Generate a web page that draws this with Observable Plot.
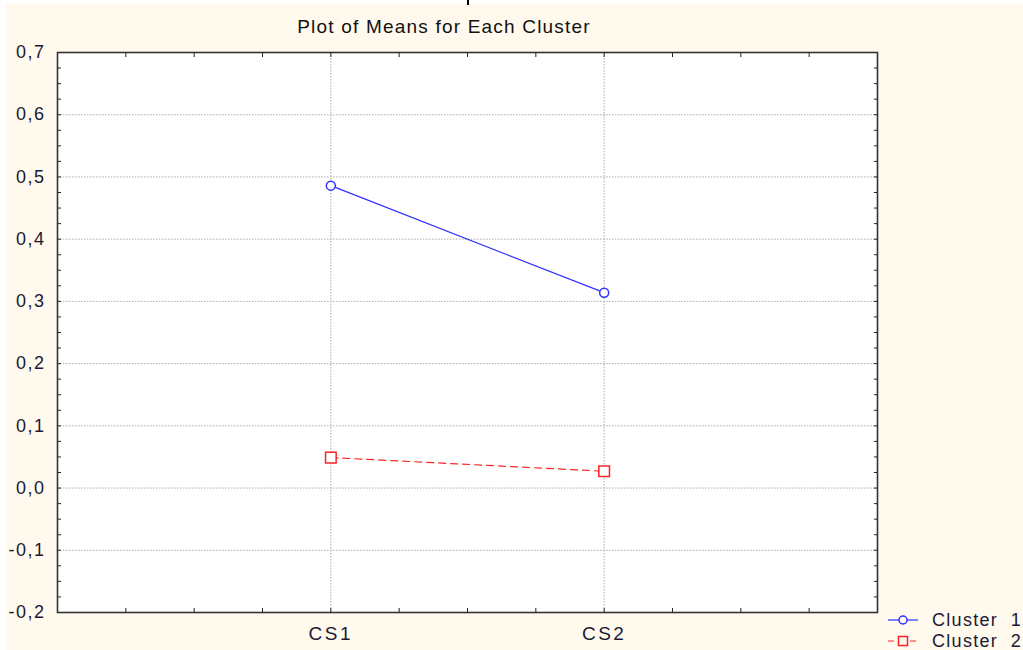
<!DOCTYPE html>
<html>
<head>
<meta charset="utf-8">
<script src="https://cdn.jsdelivr.net/npm/d3@7"></script>
<script src="https://cdn.jsdelivr.net/npm/@observablehq/plot@0.6"></script>
<style>
  html, body { margin: 0; padding: 0; background: #ffffff; }
  #wrap { position: relative; width: 1023px; height: 650px; overflow: hidden; }
  #bg { position: absolute; left: 6px; top: 4px; width: 1017px; height: 646px; background: #fff9ee; }
  #mark { position: absolute; left: 467px; top: 0; width: 2px; height: 5px; background: #000; }
  #title { position: absolute; left: 0; width: 888px; top: 16px; text-align: center;
           font-family: "Liberation Sans Narrow", "Arial Narrow", "Liberation Sans", Arial, sans-serif;
           font-size: 19px; color: #111; letter-spacing: 1.2px; }
  #chart { position: absolute; left: 0; top: 0; }
  #legend { position: absolute; left: 884px; top: 609px; }
</style>
</head>
<body>
<div id="wrap">
  <div id="bg"></div>
  <div id="mark"></div>
  <div id="chart"></div>
  <div id="title">Plot of Means for Each Cluster</div>
  <div id="legend"></div>
</div>
<script>
// ---- data ----
const categories = ["CS1", "CS2"];
const cluster1 = [0.486, 0.314];
const cluster2 = [0.049, 0.027];
const seriesNames = ["Cluster  1", "Cluster  2"];
const yMajorTicks = [-0.2, -0.1, 0.0, 0.1, 0.2, 0.3, 0.4, 0.5, 0.6, 0.7];
const yMinorStep = 0.025;
const xMinorStep = 0.25;

const blue = "#3030ff";
const red = "#ff2424";
const font = '"Liberation Sans", Arial, sans-serif';

const rows1 = categories.map((c, i) => ({cat: c, xi: i + 1, v: cluster1[i]}));
const rows2 = categories.map((c, i) => ({cat: c, xi: i + 1, v: cluster2[i]}));

const yAll = d3.range(Math.round(-0.2 / yMinorStep), Math.round(0.7 / yMinorStep) + 1).map(k => +(k * yMinorStep).toFixed(4));
const xAll = d3.range(0, Math.round(3 / xMinorStep) + 1).map(k => k * xMinorStep);
const comma = d => d3.format(".1f")(d).replace(".", ",").replace("−", "-");

const chart = Plot.plot({
  width: 1023,
  height: 650,
  marginTop: 52,
  marginBottom: 38,
  marginLeft: 57,
  marginRight: 146,
  style: {background: "transparent", fontFamily: font, overflow: "visible"},
  x: {type: "linear", domain: [0, categories.length + 1]},
  y: {domain: [-0.2, 0.7]},
  marks: [
    Plot.frame({fill: "white", stroke: "none"}),
    Plot.gridY(yMajorTicks, {stroke: "#aaaaaa", strokeOpacity: 1, strokeDasharray: "1.5,1.5"}),
    Plot.gridX(categories.map((c, i) => i + 1), {stroke: "#aaaaaa", strokeOpacity: 1, strokeDasharray: "1.5,1.5"}),
    // y labels
    Plot.axisY({anchor: "left", ticks: yMajorTicks, tickSize: 0, tickPadding: 12, tickFormat: comma,
                fontSize: 18, fill: "#1a1a33", label: null}),
    // inward ticks
    Plot.axisY({anchor: "left", ticks: yAll, tickSize: 4, dx: 4, fill: "none", stroke: "#222", label: null}),
    Plot.axisY({anchor: "right", ticks: yAll, tickSize: 4, dx: -4, fill: "none", stroke: "#222", label: null}),
    Plot.axisX({anchor: "bottom", ticks: xAll, tickSize: 4, dy: -4, fill: "none", stroke: "#222", label: null}),
    Plot.axisX({anchor: "top", ticks: xAll, tickSize: 4, dy: 4, fill: "none", stroke: "#222", label: null}),
    // x labels
    Plot.axisX({anchor: "bottom", ticks: categories.map((c, i) => i + 1), tickSize: 0, tickPadding: 14,
                tickFormat: d => categories[d - 1], fontSize: 19, fill: "#1a1a33", label: null, dx: 0}),
    // series
    Plot.line(rows1, {x: "xi", y: "v", stroke: blue, strokeWidth: 1.2}),
    Plot.line(rows2, {x: "xi", y: "v", stroke: red, strokeWidth: 1.2, strokeDasharray: "7,5"}),
    Plot.dot(rows1, {x: "xi", y: "v", symbol: "circle", r: 4.5, stroke: blue, fill: "white", strokeWidth: 1.5}),
    Plot.dot(rows2, {x: "xi", y: "v", symbol: "square", r: 6, stroke: red, fill: "white", strokeWidth: 1.5}),
    Plot.frame({stroke: "#333", strokeWidth: 1.6})
  ]
});
// widen spacing of the tick labels like the original
d3.select(chart).selectAll('g[aria-label="x-axis tick label"] text').style("letter-spacing", "2.5px");
d3.select(chart).selectAll('g[aria-label="y-axis tick label"] text').style("letter-spacing", "1.5px");
document.getElementById("chart").appendChild(chart);

// legend
const lg = d3.select("#legend").append("svg").attr("width", 139).attr("height", 41)
  .style("overflow", "visible");
const items = [
  {name: seriesNames[0], color: blue, dash: null, sym: "circle"},
  {name: seriesNames[1], color: red, dash: "6,5", sym: "square"}
];
items.forEach((it, i) => {
  const y = 11 + i * 21;
  lg.append("line").attr("x1", 4).attr("x2", 34).attr("y1", y).attr("y2", y)
    .attr("stroke", it.color).attr("stroke-width", 1.2).attr("stroke-dasharray", it.dash);
  if (it.sym === "circle") {
    lg.append("circle").attr("cx", 19).attr("cy", y).attr("r", 4).attr("fill", "#fff9ee")
      .attr("stroke", it.color).attr("stroke-width", 1.5);
  } else {
    lg.append("rect").attr("x", 14.5).attr("y", y - 4.5).attr("width", 9).attr("height", 9)
      .attr("fill", "#fff9ee").attr("stroke", it.color).attr("stroke-width", 1.5);
  }
  lg.append("text").attr("x", 48).attr("y", y + 6).text(it.name)
    .attr("font-family", font).attr("font-size", 18).attr("fill", "#1a1a33")
    .style("white-space", "pre").attr("xml:space", "preserve").style("letter-spacing", "1.3px");
});
</script>
</body>
</html>
